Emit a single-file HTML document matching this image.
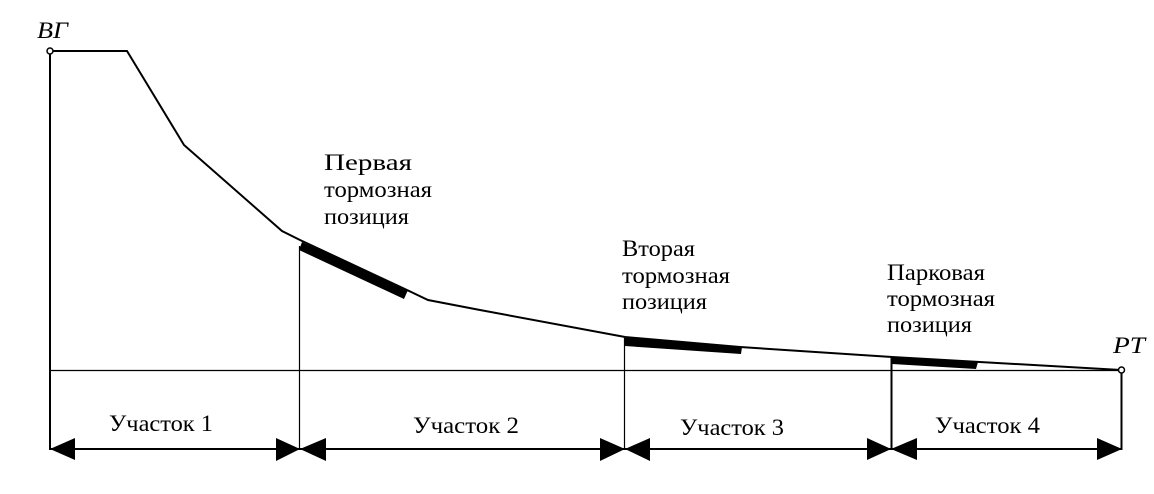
<!DOCTYPE html>
<html><head><meta charset="utf-8"><style>
html,body{margin:0;padding:0;background:#fff}
svg{display:block}
text{font-family:"Liberation Serif",serif;fill:#000;font-size:23px}
</style></head><body>
<svg width="1154" height="494" viewBox="0 0 1154 494" xmlns="http://www.w3.org/2000/svg">
<g fill="none" stroke="#000">
<polyline points="50,51 127,51 184,145 282,231 300,240 407,290 428,300 480,310 625,337 740,347 892,357 1121,370" stroke-width="2"/>
<line x1="50" y1="51" x2="50" y2="450" stroke-width="2"/>
<line x1="50" y1="370.500" x2="1121" y2="370.500" stroke-width="1.300"/>
<line x1="299.500" y1="246" x2="299.500" y2="450" stroke-width="1.200"/>
<line x1="624.500" y1="338" x2="624.500" y2="450" stroke-width="1.200"/>
<line x1="891.500" y1="357" x2="891.500" y2="450" stroke-width="2"/>
<line x1="1121.500" y1="370" x2="1121.500" y2="450" stroke-width="2"/>
<line x1="50" y1="449" x2="1121" y2="449" stroke-width="2"/>
<circle cx="50" cy="51" r="3" fill="#fff" stroke-width="1.500"/>
<circle cx="1121.500" cy="370" r="3" fill="#fff" stroke-width="1.500"/>
</g>
<g fill="#000">
<polygon points="302,242 408,290 404,299 299,250"/>
<polygon points="625,337 742,347 741,354 625,346"/>
<polygon points="892,357 978,362 976,369 892,364"/>
<polygon points="50,449 75,438 75,460"/>
<polygon points="300,449 276,438 276,461"/>
<polygon points="300,449 326,438 326,461"/>
<polygon points="625,449 600,438 600,461"/>
<polygon points="625,449 650,438 650,461"/>
<polygon points="891,449 867,438 867,460"/>
<polygon points="891,449 917,438 917,460"/>
<polygon points="1122,449 1097,438 1097,460"/>
</g>
<g lengthAdjust="spacingAndGlyphs">
<text x="37" y="38" textLength="31" lengthAdjust="spacingAndGlyphs" style="font-style:italic">ВГ</text>
<text x="1113" y="353" textLength="32" lengthAdjust="spacingAndGlyphs" style="font-style:italic">РТ</text>
<text x="324" y="170" textLength="88" lengthAdjust="spacingAndGlyphs">Первая</text>
<text x="324" y="197" textLength="108" lengthAdjust="spacingAndGlyphs">тормозная</text>
<text x="324" y="224" textLength="85" lengthAdjust="spacingAndGlyphs">позиция</text>
<text x="622" y="256" textLength="73" lengthAdjust="spacingAndGlyphs">Вторая</text>
<text x="622" y="283" textLength="108" lengthAdjust="spacingAndGlyphs">тормозная</text>
<text x="622" y="309" textLength="85" lengthAdjust="spacingAndGlyphs">позиция</text>
<text x="887" y="280" textLength="98" lengthAdjust="spacingAndGlyphs">Парковая</text>
<text x="887" y="306" textLength="108" lengthAdjust="spacingAndGlyphs">тормозная</text>
<text x="887" y="332" textLength="85" lengthAdjust="spacingAndGlyphs">позиция</text>
<text x="109" y="431" textLength="104" lengthAdjust="spacingAndGlyphs">Участок 1</text>
<text x="413" y="433" textLength="106" lengthAdjust="spacingAndGlyphs">Участок 2</text>
<text x="680" y="435" textLength="104" lengthAdjust="spacingAndGlyphs">Участок 3</text>
<text x="935" y="433" textLength="105" lengthAdjust="spacingAndGlyphs">Участок 4</text>
</g>
</svg>
</body></html>
